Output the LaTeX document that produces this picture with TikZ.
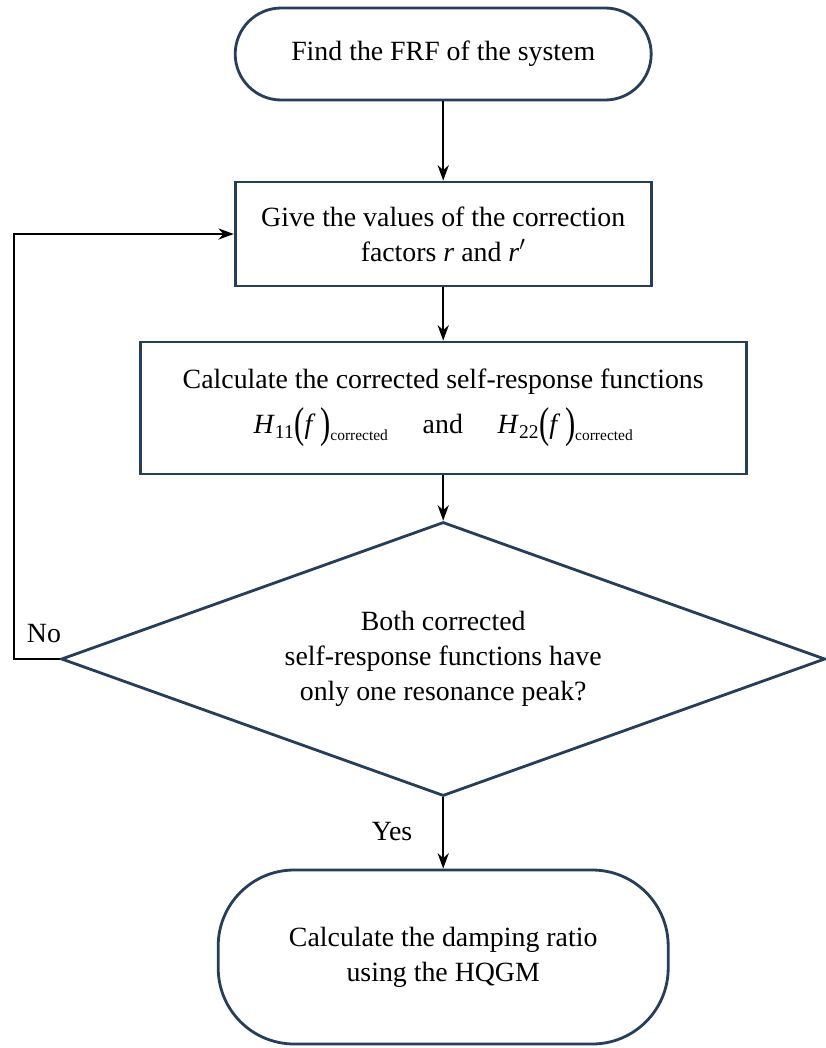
\documentclass[tikz,border=0pt]{standalone}
\usepackage{fontspec}
\setmainfont{Liberation Serif}
\usetikzlibrary{shapes.geometric,arrows.meta}

\definecolor{boxblue}{RGB}{38,62,90}
\newcommand{\tallparen}[1]{\raisebox{-0.32ex}{\scalebox{1.1}[1.55]{#1}}}
\newcommand{\Hcorr}[1]{\textit{H}\textsubscript{#1}\tallparen{(}\textit{f}\,\tallparen{)}\raisebox{-0.5ex}{\fontsize{11}{12}\selectfont corrected}}

\begin{document}
\begin{tikzpicture}[
    flowbox/.style={draw=boxblue, line width=2pt, align=center, inner sep=0pt},
    flowline/.style={line width=1.1pt, -{Stealth[length=11pt,width=8pt]}},
    font=\fontsize{19.8}{25}\selectfont]

    \useasboundingbox (0,0) rectangle (20.65,-26.2);

    \node [flowbox, rounded corners=1.15cm, minimum width=10.4cm, minimum height=2.3cm] (start) at (11.08,-1.35) {Find the FRF of the system};
    \node [flowbox, minimum width=10.4cm, minimum height=2.6cm] (factors) at (11.08,-5.85) {Give the values of the correction\\factors \textit{r} and \textit{r}$'$};
    \node [flowbox, minimum width=15.15cm, minimum height=3.3cm] (calc) at (11.08,-10.2) {Calculate the corrected self-response functions\\[7pt]\Hcorr{11}\quad\ and\ \quad\Hcorr{22}};
    \node [flowbox, diamond, aspect=2.8, minimum width=19.1cm, minimum height=6.85cm] (check) at (11.08,-16.475) {Both corrected\\self-response functions have\\only one resonance peak?};
    \node [flowbox, rounded corners=1.9cm, minimum width=11.25cm, minimum height=4.35cm] (damping) at (11.08,-23.925) {Calculate the damping ratio\\using the HQGM};

    \coordinate (C0) at (0.35,-16.475);

    \draw [flowline] (start) -- (factors);
    \draw [flowline] (factors) -- (calc);
    \draw [flowline] (calc) -- (check);
    \draw [flowline] (check) -- (damping);
    \draw [flowline] (check.west) -- (C0) |- (factors.west);

    \node (no) at (1.1,-15.85) {No};
    \node (yes) at (9.8,-20.8) {Yes};

\end{tikzpicture}
\end{document}
